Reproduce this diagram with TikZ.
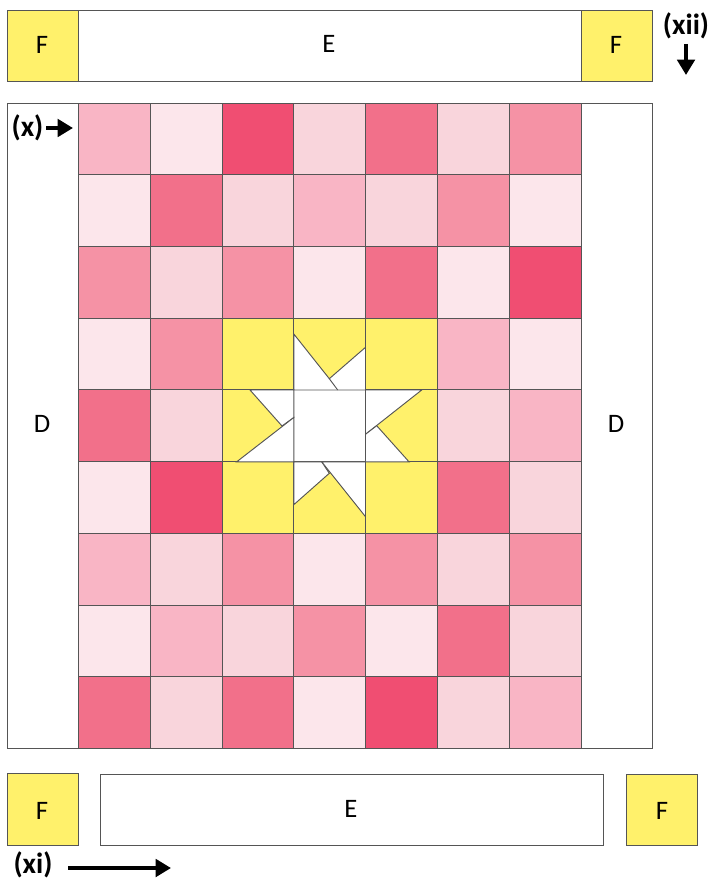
\documentclass[tikz,border=0pt]{standalone}
\usepackage{fontspec}
\setmainfont{Carlito}
\usetikzlibrary{arrows.meta}
\definecolor{patchA}{HTML}{FCE6EB}
\definecolor{patchB}{HTML}{F9D5DC}
\definecolor{patchC}{HTML}{F9B5C5}
\definecolor{patchD}{HTML}{F592A5}
\definecolor{patchE}{HTML}{F2708A}
\definecolor{patchF}{HTML}{F04E72}
\definecolor{starY}{HTML}{FFF16B}
\definecolor{seam}{HTML}{555555}
\tikzset{
  seamline/.style={draw=seam,line width=0.7pt},
  piece/.style={font=\fontsize{20}{22}\selectfont,inner sep=0pt},
  step label/.style={font=\fontsize{22}{24}\selectfont\bfseries,inner sep=0pt},
  step arrow/.style={line width=3pt,-{Triangle[length=11.5pt,width=13pt]}}
}
\begin{document}
\begin{tikzpicture}[x=0.75pt,y=-0.75pt]
  \useasboundingbox (0,0) rectangle (709,880);
  % Coordinates
  \coordinate (xarrowa) at (46,128);
  \coordinate (xarrowb) at (73,128);
  \coordinate (xiiarrowa) at (686,44);
  \coordinate (xiiarrowb) at (686,75);
  \coordinate (xiarrowa) at (68,868);
  \coordinate (xiarrowb) at (171,868);
  % Top strip
  \filldraw[seamline,fill=white] (78.5,10) rectangle (581,81);
  \filldraw[seamline,fill=starY] (7,10) rectangle (78.5,81);
  \filldraw[seamline,fill=starY] (581,10) rectangle (652.5,81);
  \node[piece] (ftopl) at (42,45) {F};
  \node[piece] (etop) at (329,44) {E};
  \node[piece] (ftopr) at (616,45) {F};
  % Side strips
  \filldraw[seamline,fill=white] (7,103) rectangle (652.5,748.7);
  \node[piece] (dleft) at (42,424) {D};
  \node[piece] (dright) at (616,424) {D};
  % Patches
  \foreach \row/\names in {
    0/{patchC,patchA,patchF,patchB,patchE,patchB,patchD},
    1/{patchA,patchE,patchB,patchC,patchB,patchD,patchA},
    2/{patchD,patchB,patchD,patchA,patchE,patchA,patchF},
    3/{patchA,patchD,starY,starY,starY,patchC,patchA},
    4/{patchE,patchB,starY,white,starY,patchB,patchC},
    5/{patchA,patchF,starY,starY,starY,patchE,patchB},
    6/{patchC,patchB,patchD,patchA,patchD,patchB,patchD},
    7/{patchA,patchC,patchB,patchD,patchA,patchE,patchB},
    8/{patchE,patchB,patchE,patchA,patchF,patchB,patchC}}{
    \foreach \name [count=\col from 0] in \names {
      \filldraw[seamline,fill=\name] ({78.5+\col*71.79},{103+\row*71.74}) rectangle ++(71.79,71.74);
    }
  }
  % Star points
  \filldraw[seamline,fill=white] (293.8,334)--(329.3,378.7)--(365.5,347.3)--(365.5,390)--(293.8,390)--cycle;
  \draw[seamline] (329.3,378.7)--(337.7,390);
  \filldraw[seamline,fill=white] (250,390)--(282,426)--(293.8,417.5)--(293.8,390)--cycle;
  \filldraw[seamline,fill=white] (236.7,461.8)--(293.8,417.5)--(293.8,461.8)--cycle;
  \filldraw[seamline,fill=white] (421.7,390)--(365.5,434.3)--(365.5,390)--cycle;
  \filldraw[seamline,fill=white] (365.5,434.3)--(376.7,425.7)--(409,461.8)--(365.5,461.8)--cycle;
  \filldraw[seamline,fill=white] (293.8,461.8)--(321.7,461.8)--(329.3,473.3)--(293.8,504.7)--cycle;
  \filldraw[seamline,fill=white] (321.7,461.8)--(365.5,461.8)--(365.5,516.7)--cycle;
  % Bottom strip
  \filldraw[seamline,fill=starY] (7,773.5) rectangle (78.5,845);
  \filldraw[seamline,fill=white] (100.5,774) rectangle (603,845.5);
  \filldraw[seamline,fill=starY] (626,774) rectangle (697.5,845);
  \node[piece] (fbotl) at (42,811) {F};
  \node[piece] (ebot) at (351,809) {E};
  \node[piece] (fbotr) at (662,811) {F};
  % Step labels
  \node[step label] (xlabel) at (27.5,128) {(x)};
  \node[step label] (xiilabel) at (686,26) {(xii)};
  \node[step label] (xilabel) at (33,864.5) {(xi)};
  \draw[step arrow] (xarrowa)--(xarrowb);
  \draw[step arrow] (xiiarrowa)--(xiiarrowb);
  \draw[step arrow] (xiarrowa)--(xiarrowb);
\end{tikzpicture}
\end{document}
